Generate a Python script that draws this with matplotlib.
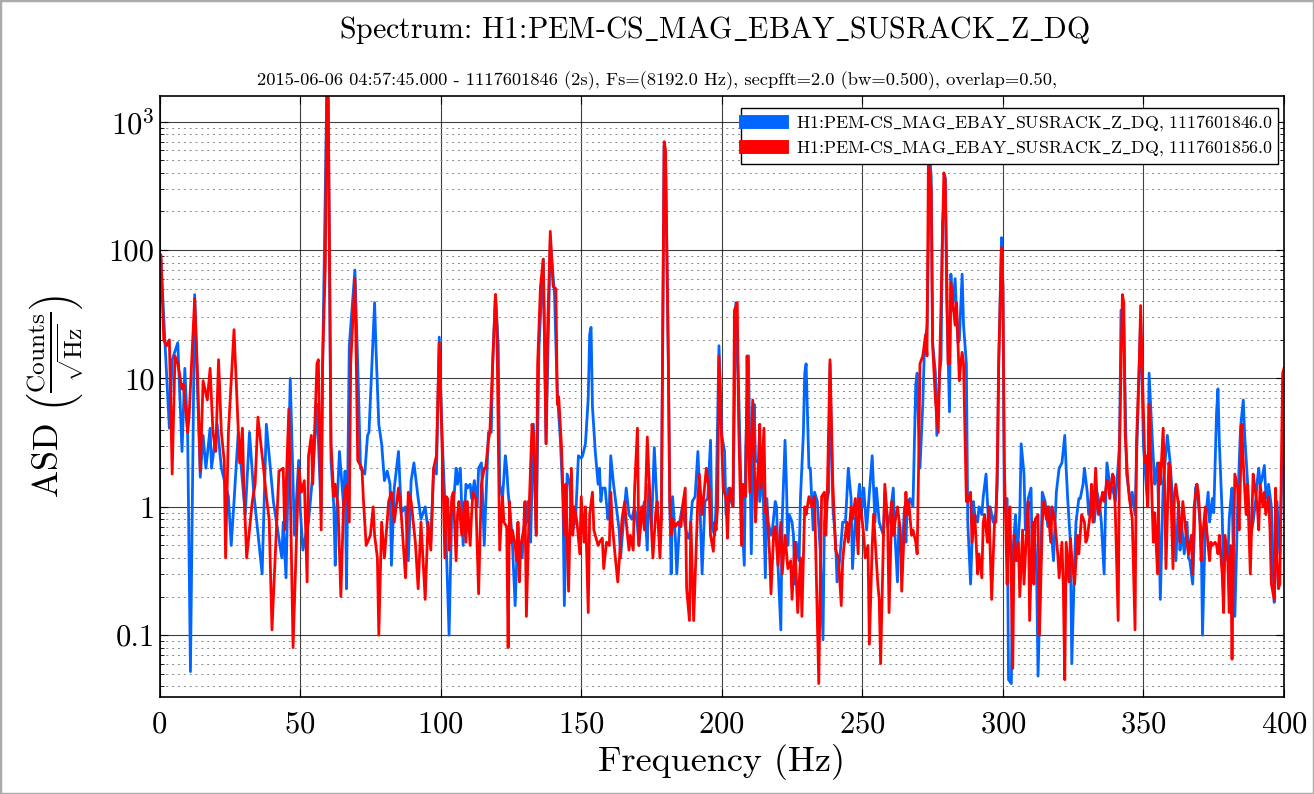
import matplotlib
matplotlib.use("Agg")
import matplotlib.pyplot as plt
from matplotlib.patches import Rectangle
from matplotlib.ticker import FixedLocator, FixedFormatter, LogLocator, NullFormatter

plt.rcParams["font.family"] = ["cmr10", "DejaVu Serif"]
plt.rcParams["mathtext.fontset"] = "cm"
plt.rcParams["axes.formatter.use_mathtext"] = True
plt.rcParams["axes.unicode_minus"] = False

CHANNEL = "H1:PEM-CS_MAG_EBAY_SUSRACK_Z_DQ"
# cmr10 has no underscore glyph, so draw it through mathtext
CHANNEL_TXT = CHANNEL.replace("_", r"$\_$")
TITLE = "Spectrum: " + CHANNEL_TXT
SUBTITLE = ("2015-06-06 04:57:45.000 - 1117601846 (2s), Fs=(8192.0 Hz), "
            "secpfft=2.0 (bw=0.500), overlap=0.50,")
legend_labels = [CHANNEL_TXT + ", 1117601846.0", CHANNEL_TXT + ", 1117601856.0"]

x_ticks = [0, 50, 100, 150, 200, 250, 300, 350, 400]
y_ticks = [0.1, 1, 10, 100, 1000]
y_tick_labels = ["0.1", "1", "10", "100", r"$10^3$"]

# (frequency Hz, ASD)
blue_points = [
    (0.0, 90), (0.5, 85), (2.0, 18), (3.5, 4.1), (4.5, 14), (6.5, 19), (8.0, 2.7), (9.0, 12),
    (10.0, 3.8), (11.0, 0.052), (12.5, 45), (14.5, 1.7), (15.5, 3.6), (16.5, 2.0), (18.0, 4.1),
    (18.5, 2.0), (20.5, 4.4), (22.0, 2.0), (24.5, 1.2), (25.5, 0.5), (26.5, 1.1), (28.0, 3.8),
    (30.5, 0.87), (32.0, 3.8), (33.5, 1.3), (36.5, 0.3), (38.0, 4.4), (40.5, 1.1), (43.5, 0.4),
    (44.0, 0.76), (45.0, 0.28), (46.5, 10), (48.0, 0.6), (49.5, 2.3), (50.0, 1.0), (51.0, 0.46),
    (52.0, 0.6), (53.0, 0.76), (54.5, 1.8), (56.0, 6.3), (57.5, 0.9), (58.0, 12), (59.5, 1700),
    (60.0, 1500), (61.0, 2.3), (62.0, 1.0), (62.5, 0.35), (63.0, 0.87), (64.0, 2.7), (65.5, 1.0),
    (66.0, 1.9), (66.5, 0.23), (67.5, 18), (69.5, 70), (70.5, 13), (71.5, 2.0), (73.0, 1.8),
    (74.0, 3.6), (74.5, 3.8), (75.5, 12), (76.5, 39), (77.0, 17), (78.0, 4.4), (79.0, 3.1),
    (79.5, 2.2), (80.0, 1.6), (81.0, 1.9), (82.0, 1.5), (82.5, 0.35), (83.5, 1.4), (85.0, 2.7),
    (86.0, 0.9), (87.5, 1.0), (88.5, 0.38), (89.5, 1.6), (90.5, 2.2), (92.0, 1.16), (93.0, 0.8),
    (94.5, 1.0), (95.5, 0.66), (96.5, 0.53), (97.5, 2.0), (98.5, 1.8), (99.5, 21), (100.5, 3.6),
    (101.5, 1.1), (103.0, 0.1), (104.0, 1.1), (104.5, 1.0), (105.5, 2.0), (106.0, 1.5),
    (107.0, 2.0), (108.0, 0.5), (109.0, 1.5), (109.5, 1.4), (110.5, 1.5), (111.0, 1.16),
    (112.0, 1.6), (113.0, 1.0), (113.5, 2.0), (114.5, 2.2), (115.5, 0.5), (116.5, 2.0),
    (117.0, 3.8), (118.0, 3.8), (118.5, 13), (119.5, 45), (120.5, 18), (121.0, 1.5),
    (122.0, 1.16), (123.0, 2.5), (123.5, 2.0), (124.0, 1.3), (125.0, 0.76), (125.5, 0.53),
    (126.5, 0.17), (127.5, 0.7), (128.0, 0.46), (129.0, 0.4), (129.5, 0.66), (130.5, 0.76),
    (131.0, 1.1), (132.0, 0.53), (133.0, 4.4), (134.0, 0.6), (135.0, 18), (136.5, 85),
    (137.5, 3.1), (138.5, 36), (139.0, 120), (140.5, 45), (141.5, 7.5), (142.5, 3.6),
    (143.5, 1.16), (144.0, 0.17), (145.0, 1.8), (146.0, 1.5), (147.0, 0.66), (148.0, 0.8),
    (149.0, 2.5), (150.0, 2.4), (150.5, 2.5), (151.5, 3.1), (152.5, 7), (153.0, 22), (153.5, 25),
    (154.0, 6), (155.0, 2.7), (156.0, 1.5), (156.5, 2.0), (157.0, 1.1), (157.5, 1.4), (158.5, 1.4),
    (159.5, 0.8), (160.0, 1.0), (160.5, 2.5), (161.5, 1.5), (162.5, 1.0), (163.5, 0.66),
    (164.0, 0.4), (165.0, 0.76), (166.0, 1.4), (167.0, 0.87), (168.0, 0.8), (169.0, 1.0),
    (170.0, 0.7), (170.5, 0.5), (171.5, 0.87), (172.5, 1.1), (173.5, 0.46), (174.0, 1.5),
    (175.0, 0.7), (176.0, 2.9), (177.0, 1.0), (178.0, 0.53), (178.5, 0.87), (179.5, 650),
    (180.0, 500), (181.0, 13), (181.5, 1.1), (182.0, 0.3), (182.5, 1.2), (183.5, 0.57),
    (184.0, 0.3), (185.0, 0.76), (186.0, 1.0), (187.0, 0.7), (188.0, 0.57), (188.5, 0.57),
    (189.5, 1.1), (190.5, 1.2), (191.5, 2.7), (192.0, 1.5), (193.0, 0.3), (194.0, 1.1),
    (195.0, 1.16), (196.0, 3.3), (196.5, 0.7), (197.5, 0.6), (198.0, 1.1), (199.0, 18),
    (200.0, 3.6), (201.0, 2.7), (201.5, 0.87), (202.5, 1.4), (203.0, 1.16), (204.0, 1.0),
    (205.0, 39), (206.0, 8.3), (207.0, 1.0), (208.0, 0.35), (208.5, 2.7), (209.5, 15),
    (210.0, 2.7), (210.5, 0.43), (211.5, 6.3), (212.0, 2.3), (213.0, 2.2), (213.5, 1.1),
    (214.5, 2.0), (215.5, 0.28), (216.0, 1.16), (216.5, 0.76), (217.5, 0.6), (218.0, 0.66),
    (219.0, 1.1), (219.5, 1.0), (220.0, 0.35), (221.0, 0.11), (221.5, 0.8), (222.5, 3.3),
    (223.0, 1.5), (223.5, 0.5), (224.0, 0.87), (225.0, 0.76), (225.5, 0.6), (226.0, 0.25),
    (226.5, 0.53), (227.5, 0.38), (228.0, 1.2), (229.0, 3.6), (229.5, 11), (230.0, 13),
    (231.0, 2.0), (231.5, 2.0), (232.5, 0.66), (233.0, 1.3), (234.0, 1.1), (235.0, 0.46),
    (236.0, 0.092), (236.5, 0.76), (237.0, 1.0), (238.0, 1.3), (238.5, 13), (239.5, 1.0),
    (240.5, 0.53), (241.0, 0.26), (242.0, 0.4), (243.0, 0.76), (244.0, 0.76), (245.0, 2.0),
    (246.0, 1.16), (246.5, 0.33), (247.5, 0.8), (248.5, 1.16), (249.0, 1.5), (250.0, 1.0),
    (250.5, 1.4), (251.5, 0.66), (252.5, 1.3), (253.5, 2.5), (254.5, 0.76), (255.0, 1.4),
    (256.0, 0.76), (256.5, 0.7), (257.5, 0.6), (258.0, 1.3), (259.0, 0.7), (260.0, 0.9),
    (261.0, 1.4), (261.5, 0.66), (262.5, 0.26), (263.0, 0.76), (264.0, 0.38), (265.0, 1.0),
    (265.5, 0.53), (266.0, 1.1), (267.0, 1.16), (268.0, 1.0), (268.5, 3.1), (269.0, 9),
    (269.5, 11), (270.0, 4.1), (270.5, 2.0), (271.5, 6.3), (272.0, 15), (273.0, 26),
    (274.0, 520), (274.5, 370), (275.0, 19), (276.0, 11), (276.5, 3.6), (277.5, 11), (278.0, 14),
    (278.5, 160), (279.5, 370), (280.0, 42), (281.0, 5.5), (281.5, 65), (282.0, 34), (283.0, 60),
    (284.0, 19), (284.5, 20), (285.5, 65), (286.0, 26), (287.0, 13), (287.5, 0.76), (288.5, 0.25),
    (289.5, 1.1), (290.0, 0.87), (291.0, 0.76), (291.5, 1.0), (292.5, 0.87), (293.0, 1.2),
    (294.0, 1.8), (295.0, 0.66), (295.5, 1.0), (296.5, 0.76), (297.5, 0.9), (298.0, 1.5),
    (298.5, 13), (299.5, 125), (300.0, 52), (300.5, 1.16), (301.5, 1.16), (302.0, 0.045),
    (303.0, 0.042), (303.5, 0.43), (304.5, 0.87), (305.0, 0.38), (306.0, 0.87), (306.5, 3.1),
    (307.5, 1.8), (308.0, 0.66), (309.0, 1.16), (310.0, 1.4), (310.5, 0.33), (311.0, 0.76),
    (312.0, 0.3), (312.5, 0.048), (313.5, 0.38), (314.0, 1.3), (315.0, 1.1), (316.0, 0.7),
    (316.5, 1.0), (317.5, 0.53), (318.0, 0.38), (319.0, 1.3), (320.0, 2.0), (321.0, 2.2),
    (322.0, 3.6), (322.5, 2.0), (323.0, 1.2), (324.0, 0.53), (324.5, 0.06), (325.5, 0.38),
    (326.0, 0.76), (327.0, 1.16), (327.5, 1.16), (328.5, 1.5), (329.0, 2.0), (330.0, 1.3),
    (330.5, 0.87), (331.5, 1.16), (332.5, 0.76), (333.0, 1.0), (333.5, 1.3), (334.5, 1.0),
    (335.0, 0.76), (336.0, 0.3), (336.5, 1.0), (337.0, 2.2), (338.0, 1.5), (339.0, 1.4),
    (340.0, 1.1), (340.5, 1.5), (341.5, 3.1), (342.0, 34), (343.0, 26), (344.0, 1.8),
    (344.5, 1.5), (345.5, 1.0), (346.0, 1.3), (347.0, 0.87), (347.5, 2.2), (348.5, 13),
    (349.0, 30), (350.0, 3.0), (351.5, 1.0), (352.0, 11), (353.0, 3.8), (354.0, 1.5),
    (354.5, 1.8), (355.0, 2.2), (356.0, 0.19), (357.0, 1.5), (357.5, 2.0), (358.5, 3.6),
    (359.5, 2.2), (360.0, 1.5), (361.0, 0.76), (361.5, 0.38), (362.5, 1.1), (363.0, 0.46),
    (363.5, 0.76), (364.5, 0.43), (365.5, 0.76), (366.0, 0.4), (366.5, 0.38), (367.5, 0.25),
    (368.0, 0.53), (368.5, 1.4), (369.0, 1.5), (370.0, 0.8), (370.5, 0.66), (371.0, 0.1),
    (372.0, 0.76), (372.5, 1.0), (373.0, 1.3), (373.5, 0.76), (374.5, 1.16), (375.0, 0.9),
    (376.0, 5.5), (376.5, 8.3), (377.0, 3.1), (378.0, 0.87), (378.5, 0.28), (379.0, 0.53),
    (380.0, 0.38), (380.5, 0.8), (381.0, 1.1), (381.5, 1.4), (382.0, 0.38), (382.5, 0.14),
    (383.5, 1.0), (384.0, 2.0), (384.5, 4.1), (385.5, 6.8), (386.0, 3.6), (387.0, 1.6),
    (387.5, 1.0), (388.0, 0.57), (389.0, 0.76), (390.0, 1.16), (390.5, 1.6), (391.0, 2.0),
    (391.5, 1.5), (392.0, 1.6), (393.0, 2.1), (393.5, 1.3), (394.0, 1.16), (394.5, 1.5),
    (395.5, 1.0), (396.5, 0.18), (397.0, 0.38), (397.5, 1.1), (398.5, 0.43), (399.5, 3.1),
    (400.0, 4.0),
]

red_points = [
    (0.0, 90), (0.5, 92), (1.5, 20), (2.5, 18), (3.5, 20), (4.5, 1.8), (5.5, 15), (6.5, 13),
    (8.0, 8.3), (8.5, 9), (10.0, 3.8), (10.5, 5), (12.5, 42), (13.5, 11), (14.5, 1.9), (15.5, 9.6),
    (17.0, 6.8), (18.0, 12), (19.0, 3.8), (20.0, 2.7), (21.0, 14), (22.0, 3.8), (23.0, 2.3),
    (23.5, 0.4), (24.5, 3.8), (26.5, 24), (28.0, 4.1), (28.5, 2.2), (29.5, 4.1), (30.0, 1.4),
    (31.0, 0.4), (33.0, 1.1), (34.0, 1.5), (35.0, 5), (37.0, 2.0), (38.0, 1.2), (39.0, 0.8),
    (40.0, 0.11), (42.5, 1.9), (44.0, 2.0), (44.5, 0.66), (46.0, 5.8), (47.5, 0.08), (49.5, 2.0),
    (50.5, 1.3), (51.5, 1.6), (52.5, 0.26), (53.0, 2.5), (54.0, 3.6), (54.5, 1.5), (56.0, 13),
    (56.5, 14), (57.5, 0.66), (58.0, 13), (59.0, 80), (59.5, 1800), (60.0, 1700), (61.0, 3.1),
    (62.0, 1.2), (62.5, 1.5), (63.5, 1.0), (64.5, 0.2), (65.5, 1.1), (66.5, 1.5), (67.5, 0.76),
    (68.0, 13), (69.5, 60), (70.0, 13), (70.5, 2.3), (72.0, 2.0), (72.5, 1.16), (73.5, 0.5),
    (75.0, 0.6), (76.0, 1.0), (76.5, 0.6), (77.5, 0.4), (78.0, 0.1), (79.0, 0.76), (80.0, 0.4),
    (81.5, 1.1), (82.5, 1.3), (83.5, 0.76), (85.0, 1.4), (86.0, 0.87), (87.5, 0.28), (88.5, 1.3),
    (89.5, 1.1), (91.0, 0.53), (92.0, 0.23), (93.0, 0.76), (94.5, 0.19), (95.5, 0.76),
    (96.5, 0.46), (97.5, 2.0), (98.5, 2.5), (99.5, 19), (100.5, 3.1), (101.5, 0.4), (102.0, 1.2),
    (102.5, 1.16), (103.0, 0.46), (104.0, 1.2), (104.5, 1.3), (105.5, 0.38), (106.0, 0.87),
    (106.5, 1.1), (107.5, 0.6), (108.5, 1.1), (109.0, 0.53), (109.5, 1.1), (110.5, 0.5),
    (111.0, 0.87), (111.5, 1.3), (112.5, 1.16), (113.5, 0.21), (114.5, 1.5), (115.5, 2.0),
    (116.0, 2.0), (117.0, 3.3), (117.5, 3.8), (118.5, 13), (119.5, 45), (120.0, 26), (120.5, 3.6),
    (121.0, 0.46), (122.0, 1.2), (122.5, 0.76), (123.5, 0.7), (124.0, 0.08), (124.5, 1.1),
    (125.0, 0.53), (125.5, 0.66), (126.5, 0.5), (127.0, 0.38), (127.5, 0.76), (128.0, 0.26),
    (128.5, 0.5), (129.5, 0.66), (130.0, 1.1), (130.5, 0.14), (131.5, 1.0), (132.5, 4.4),
    (133.0, 3.8), (134.0, 0.6), (134.5, 13), (135.5, 52), (136.5, 85), (137.5, 3.1), (138.0, 22),
    (139.0, 140), (140.0, 52), (141.0, 50), (141.5, 6.3), (142.0, 7.2), (143.0, 2.9), (144.0, 0.6),
    (144.5, 1.5), (145.5, 0.22), (146.5, 2.0), (147.0, 0.6), (147.5, 1.0), (148.5, 0.76),
    (149.5, 0.43), (150.0, 1.2), (151.0, 0.53), (151.5, 1.0), (152.5, 0.15), (153.0, 0.87),
    (154.0, 1.3), (154.5, 0.66), (156.0, 0.5), (156.5, 0.53), (157.5, 0.57), (158.0, 0.33),
    (159.0, 0.53), (160.0, 0.5), (160.5, 1.3), (161.0, 0.76), (162.0, 0.43), (163.0, 0.26),
    (164.0, 0.53), (164.5, 0.8), (165.5, 1.1), (166.0, 0.76), (167.0, 0.46), (167.5, 0.6),
    (168.5, 0.46), (169.0, 1.4), (170.0, 4.1), (170.5, 0.5), (171.5, 1.0), (172.5, 0.66),
    (173.5, 3.5), (174.0, 2.0), (174.5, 1.1), (175.5, 0.4), (176.5, 0.9), (177.0, 1.1),
    (178.0, 0.4), (178.5, 0.76), (179.5, 700), (180.0, 600), (181.0, 13), (181.5, 1.1),
    (182.0, 0.6), (182.5, 0.8), (183.5, 0.7), (184.5, 0.76), (185.5, 0.7), (186.0, 1.0),
    (187.0, 1.4), (187.5, 0.23), (188.5, 0.13), (189.0, 0.76), (190.0, 0.13), (191.0, 0.57),
    (191.5, 1.16), (192.0, 1.8), (193.0, 0.87), (193.5, 1.16), (194.5, 2.0), (195.0, 1.6),
    (195.5, 1.4), (196.0, 0.6), (197.0, 0.45), (197.5, 0.76), (198.0, 0.66), (198.5, 1.0),
    (199.0, 15), (200.0, 3.1), (200.5, 1.4), (201.5, 1.16), (202.0, 0.57), (202.5, 1.1),
    (203.0, 1.4), (204.0, 1.0), (204.5, 34), (205.5, 39), (206.0, 4.4), (207.0, 0.5), (207.5, 1.5),
    (208.5, 1.2), (209.0, 15), (209.5, 3.1), (210.0, 1.3), (211.0, 6.8), (211.5, 2.7),
    (212.0, 0.76), (213.0, 2.2), (213.5, 4.4), (214.0, 1.4), (215.0, 4.1), (215.5, 0.9),
    (216.0, 1.0), (217.0, 0.43), (217.5, 0.21), (218.5, 0.66), (219.0, 0.7), (220.0, 0.35),
    (221.0, 0.76), (221.5, 0.3), (222.5, 0.6), (223.5, 0.33), (224.5, 0.38), (225.0, 0.19),
    (226.0, 0.53), (227.0, 0.15), (228.0, 0.4), (228.5, 0.14), (229.5, 1.0), (230.0, 0.87),
    (231.0, 1.2), (232.0, 1.0), (233.0, 1.2), (233.5, 0.4), (234.5, 0.042), (235.5, 1.2),
    (236.5, 1.3), (237.0, 0.6), (237.5, 1.16), (238.5, 14), (239.5, 1.5), (240.5, 0.46),
    (241.5, 0.4), (242.5, 0.17), (243.0, 0.38), (243.5, 0.5), (244.5, 0.76), (245.0, 0.53),
    (246.0, 1.0), (246.5, 0.8), (247.5, 1.16), (248.5, 0.43), (249.0, 1.16), (250.0, 0.76),
    (250.5, 0.6), (251.0, 0.4), (252.0, 0.5), (252.5, 0.085), (253.5, 0.5), (254.0, 0.87),
    (255.0, 0.38), (255.5, 0.25), (256.0, 0.19), (256.5, 0.06), (257.5, 0.57), (258.0, 1.5),
    (259.0, 0.76), (259.5, 0.15), (260.5, 1.1), (261.0, 0.6), (262.0, 0.87), (262.5, 1.0),
    (263.5, 0.66), (264.0, 0.22), (265.0, 0.76), (265.5, 1.3), (266.0, 0.87), (266.5, 1.1),
    (267.5, 0.6), (268.0, 0.66), (269.0, 0.53), (269.5, 0.43), (270.0, 2.0), (270.5, 13),
    (271.5, 15), (272.5, 22), (273.0, 15), (273.5, 500), (274.5, 300), (275.0, 18), (276.0, 6.8),
    (277.0, 3.8), (277.5, 13), (278.0, 39), (279.0, 400), (279.5, 350), (280.5, 13), (281.0, 13),
    (281.5, 56), (282.5, 34), (283.0, 26), (283.5, 39), (284.0, 19), (284.5, 9.6), (285.0, 13),
    (285.5, 16), (286.0, 13), (287.0, 1.1), (287.5, 1.1), (288.5, 1.3), (289.0, 0.53),
    (290.0, 0.87), (291.0, 0.3), (291.5, 0.43), (292.5, 0.28), (293.0, 0.76), (293.5, 0.87),
    (294.5, 0.53), (295.0, 1.0), (296.0, 0.19), (297.0, 0.76), (297.5, 0.76), (298.0, 2.2),
    (298.5, 13), (299.5, 105), (300.0, 52), (300.5, 2.2), (301.5, 0.25), (302.0, 0.66),
    (302.5, 1.0), (303.5, 0.055), (304.0, 0.6), (304.5, 0.38), (305.5, 0.53), (306.0, 0.2),
    (307.0, 0.66), (307.5, 0.25), (308.5, 0.7), (309.0, 1.1), (309.5, 0.13), (310.5, 0.76),
    (311.0, 0.25), (311.5, 0.8), (312.5, 0.87), (313.0, 0.1), (314.0, 0.76), (314.5, 1.1),
    (315.5, 0.8), (316.0, 1.0), (317.0, 0.53), (317.5, 1.0), (318.5, 0.76), (319.5, 0.43),
    (320.0, 0.28), (321.0, 0.53), (321.5, 0.23), (322.0, 0.045), (322.5, 0.53), (323.5, 0.26),
    (324.0, 0.57), (324.5, 0.4), (325.5, 0.25), (326.5, 0.6), (327.0, 0.43), (328.0, 0.87),
    (329.0, 0.76), (329.5, 0.53), (330.0, 0.57), (331.0, 0.87), (331.5, 1.5), (332.0, 0.76),
    (333.0, 2.0), (333.5, 1.1), (334.0, 0.87), (335.0, 1.16), (335.5, 1.3), (336.0, 1.1),
    (337.0, 1.6), (337.5, 1.5), (338.0, 1.16), (339.0, 1.8), (339.5, 1.7), (340.0, 0.9),
    (341.0, 0.13), (341.5, 3.1), (342.5, 45), (343.0, 39), (343.5, 3.6), (344.5, 1.5),
    (345.0, 1.16), (346.0, 0.8), (347.0, 0.11), (347.5, 3.1), (348.5, 13), (349.0, 37),
    (349.5, 13), (350.5, 2.2), (351.0, 2.5), (351.5, 1.0), (352.0, 6.3), (353.0, 1.2),
    (353.5, 0.53), (354.0, 0.9), (355.0, 0.3), (355.5, 2.2), (356.0, 1.5), (357.0, 4.1),
    (357.5, 1.5), (358.0, 0.33), (359.0, 2.2), (359.5, 2.0), (360.5, 0.33), (361.0, 1.2),
    (361.5, 1.5), (362.5, 1.0), (363.0, 0.53), (363.5, 0.7), (364.0, 1.1), (365.0, 0.66),
    (366.0, 0.43), (367.0, 0.6), (367.5, 0.3), (368.0, 1.0), (369.0, 1.5), (369.5, 1.3),
    (370.0, 0.87), (370.5, 0.38), (371.0, 0.57), (372.0, 1.0), (372.5, 0.66), (373.5, 0.38),
    (374.0, 0.53), (374.5, 0.5), (375.5, 0.53), (376.0, 0.5), (376.5, 0.43), (377.0, 0.6),
    (378.0, 0.3), (378.5, 0.15), (379.0, 0.6), (380.0, 0.38), (380.5, 0.15), (381.0, 0.5),
    (381.5, 0.065), (382.0, 0.43), (382.5, 1.8), (383.5, 1.4), (384.0, 0.66), (385.0, 4.4),
    (385.5, 2.2), (386.5, 0.87), (387.0, 1.5), (387.5, 0.66), (388.0, 0.3), (389.0, 1.8),
    (389.5, 1.5), (390.5, 1.0), (391.0, 0.66), (391.5, 1.5), (392.5, 1.0), (393.0, 1.3),
    (393.5, 0.87), (394.5, 1.2), (395.0, 0.66), (395.5, 0.25), (396.5, 0.19), (397.0, 1.4),
    (397.5, 0.38), (398.0, 0.23), (398.5, 0.25), (399.5, 11), (400.0, 12),
]

blue_freq, blue_asd = zip(*blue_points)
red_freq, red_asd = zip(*red_points)

fig = plt.figure(figsize=(13.14, 7.94), dpi=100)
ax = fig.add_axes([0.1214, 0.1222, 0.8558, 0.757])

ax.plot(blue_freq, blue_asd, color="#0066ff", linewidth=2.0, label=legend_labels[0])
ax.plot(red_freq, red_asd, color="#ff0000", linewidth=2.0, label=legend_labels[1])

ax.set_yscale("log")
ax.set_xlim(0, 400)
ax.set_ylim(0.033, 1590)

ax.xaxis.set_major_locator(FixedLocator(x_ticks))
ax.yaxis.set_major_locator(FixedLocator(y_ticks))
ax.yaxis.set_major_formatter(FixedFormatter(y_tick_labels))
ax.yaxis.set_minor_locator(LogLocator(base=10, subs=range(2, 10), numticks=20))
ax.yaxis.set_minor_formatter(NullFormatter())

ax.tick_params(which="both", direction="in", top=True, right=True, labelsize=22)
ax.tick_params(which="major", length=6, width=0.8)
ax.tick_params(which="minor", length=3, width=0.6)
ax.tick_params(axis="x", pad=10)

ax.grid(True, which="major", color="black", linewidth=0.8, linestyle="-", alpha=0.75)
ax.grid(True, which="minor", axis="y", color="#888888", linewidth=0.7, linestyle=(0, (2, 4)))
ax.set_axisbelow(True)

for s in ax.spines.values():
    s.set_linewidth(1.2)

ax.set_xlabel("Frequency (Hz)", fontsize=26)
ax.set_ylabel(r"ASD $\left(\frac{\mathrm{Counts}}{\sqrt{\mathrm{Hz}}}\right)$", fontsize=26,
              labelpad=16)

leg = ax.legend(loc="upper right", bbox_to_anchor=(0.995, 0.98), borderaxespad=0,
                fontsize=12.8, handlelength=2.0, fancybox=False, framealpha=1,
                edgecolor="black", borderpad=0.3, labelspacing=0.3, handletextpad=0.8)
leg.get_frame().set_linewidth(1.0)
for line in leg.get_lines():
    line.set_linewidth(10)

fig.text(0.544, 0.962, TITLE, ha="center", va="center", fontsize=21.5)
fig.text(0.5, 0.898, SUBTITLE, ha="center", va="center", fontsize=13.3)

fig.patches.append(Rectangle((0, 0), 1, 1, transform=fig.transFigure, fill=False,
                             edgecolor="#aaaaaa", linewidth=2.5))

fig.savefig("out.png", dpi=100)
